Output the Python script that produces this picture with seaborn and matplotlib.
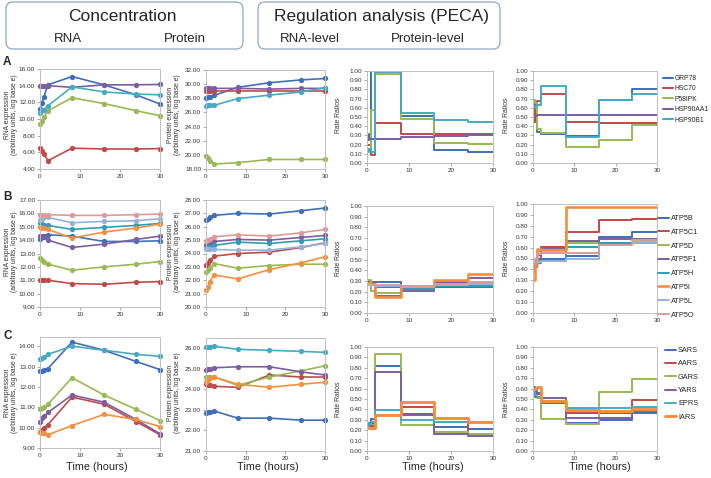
import matplotlib
matplotlib.use('Agg')
import matplotlib.pyplot as plt
from matplotlib.patches import FancyBboxPatch
from matplotlib.lines import Line2D
import seaborn as sns
import pandas as pd

# time points (hours)
TIME = [0, 0.5, 1, 2, 8, 16, 24, 30]

# ---- A: stress / chaperone genes ----
A_GENES = ['GRP78', 'HSC70', 'P58IPK', 'HSP90AA1', 'HSP90B1']
A_RNA = [
    [11.2, 11.9, 12.7, 14.1, 15.1, 14.1, 12.9, 11.8],
    [6.5, 6.2, 5.8, 5.0, 6.5, 6.4, 6.4, 6.45],
    [9.4, 9.8, 10.25, 11.0, 12.55, 11.85, 11.0, 10.4],
    [14.0, 14.0, 14.0, 14.0, 13.8, 14.1, 14.1, 14.15],
    [10.7, 11.1, 11.1, 11.6, 13.85, 13.25, 13.0, 12.9],
]
A_PROT = [
    [28.1, 28.2, 28.2, 28.4, 29.55, 30.2, 30.6, 30.8],
    [29.1, 29.1, 29.1, 29.1, 29.1, 29.1, 29.1, 29.1],
    [19.8, 19.6, 19.2, 18.7, 18.9, 19.35, 19.35, 19.35],
    [29.4, 29.4, 29.4, 29.4, 29.4, 29.3, 29.4, 29.4],
    [26.95, 27.0, 27.0, 27.0, 27.95, 28.45, 28.9, 29.5],
]
A_RNA_RATE = [
    [0.25, 0.32, 1.00, 1.00, 0.51, 0.14, 0.12],
    [0.20, 0.20, 0.09, 0.44, 0.32, 0.32, 0.32],
    [0.15, 0.15, 0.58, 0.97, 0.48, 0.22, 0.21],
    [0.26, 0.26, 0.26, 0.26, 0.28, 0.29, 0.30],
    [0.12, 0.15, 0.12, 0.99, 0.54, 0.47, 0.45],
]
A_PROT_RATE = [
    [0.62, 0.45, 0.34, 0.31, 0.29, 0.68, 0.80],
    [0.45, 0.66, 0.67, 0.75, 0.45, 0.44, 0.44],
    [0.69, 0.65, 0.37, 0.33, 0.17, 0.25, 0.41],
    [0.51, 0.51, 0.52, 0.52, 0.52, 0.52, 0.52],
    [0.60, 0.62, 0.63, 0.84, 0.28, 0.69, 0.75],
]

# ---- B: ATP synthase subunits ----
B_GENES = ['ATP5B', 'ATP5C1', 'ATP5D', 'ATP5F1', 'ATP5H', 'ATP5I', 'ATP5L', 'ATP5O']
B_RNA = [
    [14.1, 14.2, 14.3, 14.4, 14.3, 13.9, 13.9, 13.95],
    [11.0, 11.0, 11.0, 11.0, 10.75, 10.7, 10.85, 10.9],
    [12.65, 12.55, 12.4, 12.2, 11.75, 12.0, 12.2, 12.4],
    [14.3, 14.3, 14.2, 14.0, 13.45, 13.7, 14.05, 14.3],
    [15.3, 15.2, 15.1, 15.1, 14.8, 14.95, 15.1, 15.25],
    [15.0, 14.9, 14.9, 14.8, 14.15, 14.6, 14.9, 15.2],
    [15.5, 15.6, 15.7, 15.7, 15.3, 15.4, 15.45, 15.6],
    [15.85, 15.85, 15.85, 15.9, 15.85, 15.85, 15.9, 15.95],
]
B_PROT = [
    [26.5, 26.6, 26.7, 26.85, 27.0, 26.95, 27.2, 27.4],
    [23.15, 23.3, 23.5, 23.8, 24.0, 24.1, 24.45, 24.8],
    [22.6, 22.75, 22.9, 23.25, 22.9, 23.1, 23.2, 23.2],
    [24.6, 24.75, 24.8, 24.9, 25.05, 25.0, 25.2, 25.35],
    [24.4, 24.5, 24.5, 24.6, 24.85, 24.75, 24.95, 25.1],
    [21.3, 21.5, 21.9, 22.4, 22.1, 22.8, 23.3, 23.75],
    [24.3, 24.3, 24.3, 24.3, 24.25, 24.25, 24.5, 24.75],
    [24.95, 25.0, 25.1, 25.25, 25.4, 25.3, 25.55, 25.8],
]
B_RNA_RATE = [
    [0.30, 0.30, 0.29, 0.29, 0.24, 0.24, 0.24],
    [0.28, 0.28, 0.27, 0.24, 0.25, 0.28, 0.28],
    [0.31, 0.31, 0.21, 0.19, 0.23, 0.25, 0.25],
    [0.27, 0.27, 0.26, 0.16, 0.21, 0.29, 0.33],
    [0.27, 0.27, 0.26, 0.25, 0.22, 0.25, 0.25],
    [0.28, 0.28, 0.27, 0.15, 0.25, 0.31, 0.36],
    [0.26, 0.26, 0.26, 0.25, 0.24, 0.26, 0.27],
    [0.27, 0.27, 0.26, 0.26, 0.25, 0.27, 0.29],
]
B_PROT_RATE = [
    [0.45, 0.48, 0.50, 0.50, 0.52, 0.70, 0.74],
    [0.38, 0.45, 0.53, 0.61, 0.74, 0.85, 0.86],
    [0.45, 0.50, 0.57, 0.58, 0.64, 0.64, 0.64],
    [0.43, 0.42, 0.46, 0.60, 0.66, 0.68, 0.68],
    [0.44, 0.47, 0.48, 0.48, 0.61, 0.64, 0.66],
    [0.30, 0.45, 0.59, 0.58, 0.97, 0.97, 0.97],
    [0.46, 0.47, 0.47, 0.48, 0.50, 0.62, 0.65],
    [0.48, 0.50, 0.54, 0.55, 0.55, 0.62, 0.67],
]

# ---- C: tRNA synthetases ----
C_GENES = ['SARS', 'AARS', 'GARS', 'YARS', 'EPRS', 'IARS']
C_RNA = [
    [12.8, 12.8, 12.85, 12.9, 14.2, 13.8, 13.25, 12.85],
    [9.8, 9.9, 10.0, 10.15, 11.5, 11.15, 10.3, 9.65],
    [10.9, 10.95, 11.0, 11.15, 12.45, 11.6, 10.9, 10.35],
    [10.3, 10.45, 10.55, 10.75, 11.6, 11.25, 10.4, 9.7],
    [13.35, 13.4, 13.45, 13.6, 14.0, 13.8, 13.6, 13.5],
    [9.8, 9.75, 9.75, 9.65, 10.1, 10.65, 10.4, 10.05],
]
C_PROT = [
    [22.85, 22.9, 22.9, 22.95, 22.6, 22.6, 22.5, 22.5],
    [24.25, 24.2, 24.2, 24.15, 24.1, 24.7, 24.6, 24.6],
    [24.6, 24.6, 24.6, 24.6, 24.2, 24.6, 24.9, 25.15],
    [24.95, 25.0, 25.0, 25.05, 25.1, 25.1, 24.85, 24.7],
    [26.05, 26.05, 26.05, 26.1, 25.95, 25.9, 25.85, 25.8],
    [24.35, 24.45, 24.55, 24.6, 24.25, 24.1, 24.25, 24.35],
]
C_RNA_RATE = [
    [0.25, 0.27, 0.31, 0.82, 0.36, 0.23, 0.21],
    [0.23, 0.24, 0.24, 0.35, 0.42, 0.28, 0.16],
    [0.23, 0.25, 0.26, 0.93, 0.25, 0.18, 0.16],
    [0.24, 0.25, 0.27, 0.76, 0.35, 0.16, 0.14],
    [0.23, 0.26, 0.28, 0.39, 0.30, 0.28, 0.28],
    [0.22, 0.22, 0.22, 0.35, 0.47, 0.32, 0.28],
]
C_PROT_RATE = [
    [0.62, 0.58, 0.56, 0.46, 0.27, 0.30, 0.37],
    [0.57, 0.55, 0.55, 0.47, 0.37, 0.37, 0.49],
    [0.55, 0.53, 0.51, 0.31, 0.26, 0.57, 0.69],
    [0.55, 0.52, 0.52, 0.51, 0.32, 0.32, 0.38],
    [0.57, 0.54, 0.52, 0.48, 0.41, 0.41, 0.42],
    [0.60, 0.61, 0.62, 0.48, 0.39, 0.38, 0.40],
]

BLUE, RED, GREEN, PURPLE = '#3F6FB6', '#BE4B48', '#98B954', '#7D5FA0'
CYAN, ORANGE, LBLUE, PINK = '#46AAC5', '#F39040', '#93B3DC', '#DE9A9A'
A_COLORS = [BLUE, RED, GREEN, PURPLE, CYAN]
B_COLORS = [BLUE, RED, GREEN, PURPLE, '#2E9DB5', ORANGE, LBLUE, PINK]
C_COLORS = [BLUE, RED, GREEN, PURPLE, CYAN, ORANGE]

sns.set_style('white')
plt.rcParams['font.family'] = ['Liberation Sans', 'DejaVu Sans']

W, H = 711, 478
fig = plt.figure(figsize=(W / 100, H / 100), dpi=100)

# overlay in pixel coordinates for boxes and free text
bg = fig.add_axes([0, 0, 1, 1])
bg.set_xlim(0, W)
bg.set_ylim(H, 0)
bg.axis('off')


def add_ax(l, t, r, b):
    return fig.add_axes([l / W, 1 - b / H, (r - l) / W, (b - t) / H])


def style(ax, ylim, yticks):
    ax.set_xlim(0, 30)
    ax.set_ylim(*ylim)
    ax.set_xticks([0, 10, 20, 30])
    ax.set_yticks(yticks)
    ax.set_yticklabels(['%.2f' % v for v in yticks])
    ax.set_xlabel('')
    ax.set_ylabel('')
    for s in ax.spines.values():
        s.set_color('#BFBFBF')
        s.set_linewidth(0.7)
    ax.tick_params(labelsize=4.6, length=2, width=0.5, color='#8C8C8C',
                   labelcolor='#333333', pad=1.5, left=True, bottom=True)


def conc_panel(ax, values, colors, ylim, yticks):
    for vals, c in zip(values, colors):
        sns.lineplot(x=TIME, y=vals, color=c, marker='o', markersize=3.8,
                     markeredgewidth=0, linewidth=1.2, clip_on=False, ax=ax)
    style(ax, ylim, yticks)


def rate_panel(ax, values, colors, widths=None):
    for i, (vals, c) in enumerate(zip(values, colors)):
        lw = widths[i] if widths else 1.4
        sns.lineplot(x=TIME, y=list(vals) + [vals[-1]], color=c, linewidth=lw,
                     drawstyle='steps-post', ax=ax)
    style(ax, (0, 1), [i / 10 for i in range(11)])


def legend(ax, genes, colors, x, y, spacing, widths=None, size=5.3):
    handles = [Line2D([], [], color=c, lw=(widths[i] if widths else 1.5))
               for i, c in enumerate(colors)]
    ax.legend(handles, genes, loc='upper left', bbox_to_anchor=(x / W, 1 - y / H),
              bbox_transform=fig.transFigure, frameon=False, fontsize=size,
              handlelength=1.5, handletextpad=0.25, labelspacing=spacing,
              borderpad=0, borderaxespad=0)


# ---- row A ----
ax = add_ax(40, 69, 160, 169)
conc_panel(ax, A_RNA, A_COLORS, (4, 16), [4, 6, 8, 10, 12, 14, 16])
ax = add_ax(206, 70, 325, 169)
conc_panel(ax, A_PROT, A_COLORS, (18, 32), [18, 20, 22, 24, 26, 28, 30, 32])
ax = add_ax(367, 71, 493, 163)
rate_panel(ax, A_RNA_RATE, A_COLORS)
ax = add_ax(533, 71, 657, 163)
rate_panel(ax, A_PROT_RATE, A_COLORS)
legend(ax, A_GENES, A_COLORS, 663, 75, 0.5, size=4.9)

# ---- row B ----
b_w = [1.4, 1.4, 1.4, 1.4, 1.4, 1.9, 1.4, 1.4]
ax = add_ax(40, 200, 160, 307)
conc_panel(ax, B_RNA, B_COLORS, (9, 17), list(range(9, 18)))
ax = add_ax(206, 200, 325, 307)
conc_panel(ax, B_PROT, B_COLORS, (20, 28), list(range(20, 29)))
ax = add_ax(367, 206, 493, 313)
rate_panel(ax, B_RNA_RATE, B_COLORS, b_w)
ax = add_ax(533, 204, 657, 313)
rate_panel(ax, B_PROT_RATE, B_COLORS, b_w)
legend(ax, B_GENES, B_COLORS, 658, 215, 0.9, b_w)

# ---- row C ----
c_w = [1.4, 1.4, 1.4, 1.4, 1.4, 2.1]
ax = add_ax(40, 337, 160, 448)
conc_panel(ax, C_RNA, C_COLORS, (9, 14.45), [9, 10, 11, 12, 13, 14])
ax = add_ax(206, 338, 325, 451)
conc_panel(ax, C_PROT, C_COLORS, (21, 26.5), [21, 22, 23, 24, 25, 26])
ax = add_ax(367, 347, 493, 451)
rate_panel(ax, C_RNA_RATE, C_COLORS, c_w)
ax = add_ax(533, 347, 657, 451)
rate_panel(ax, C_PROT_RATE, C_COLORS, c_w)
legend(ax, C_GENES, C_COLORS, 665, 347, 0.84, c_w)

# ---- header boxes ----
for x0, x1 in [(6, 243), (258, 500)]:
    bg.add_patch(FancyBboxPatch((x0, 2), x1 - x0, 47,
                                boxstyle='round,pad=0,rounding_size=7',
                                fc='white', ec='#8FA8C8', lw=0.9))
bg.text(122, 16, 'Concentration', fontsize=12.5, ha='center', va='center')
bg.text(68, 39, 'RNA', fontsize=9.5, ha='center', va='center')
bg.text(185, 39, 'Protein', fontsize=9.5, ha='center', va='center')
bg.text(382, 16, 'Regulation analysis (PECA)', fontsize=12.5, ha='center', va='center')
bg.text(310, 39, 'RNA-level', fontsize=9.5, ha='center', va='center')
bg.text(428, 39, 'Protein-level', fontsize=9.5, ha='center', va='center')

# panel letters
for lab, y in [('A', 62), ('B', 197), ('C', 336)]:
    bg.text(3, y, lab, fontsize=8.5, fontweight='bold', ha='left', va='center')

# y-axis labels
for yc in [115, 252, 393]:
    bg.text(11, yc, 'RNA expression\n(arbitrary units, log base e)', fontsize=4.9,
            rotation=90, ha='center', va='center', color='#333333', linespacing=1.1)
    bg.text(174, yc, 'Protein expression\n(arbitrary units, log base e)', fontsize=4.9,
            rotation=90, ha='center', va='center', color='#333333', linespacing=1.1)
for yc in [115, 258, 399]:
    bg.text(338, yc, 'Rate Ratios', fontsize=4.9, rotation=90, ha='center',
            va='center', color='#333333')
    bg.text(507, yc, 'Rate Ratios', fontsize=4.9, rotation=90, ha='center',
            va='center', color='#333333')

# x-axis titles on bottom row
for xc in [97, 268, 433, 600]:
    bg.text(xc, 467, 'Time (hours)', fontsize=7.8, ha='center', va='center')

fig.savefig('out.png', dpi=100)
